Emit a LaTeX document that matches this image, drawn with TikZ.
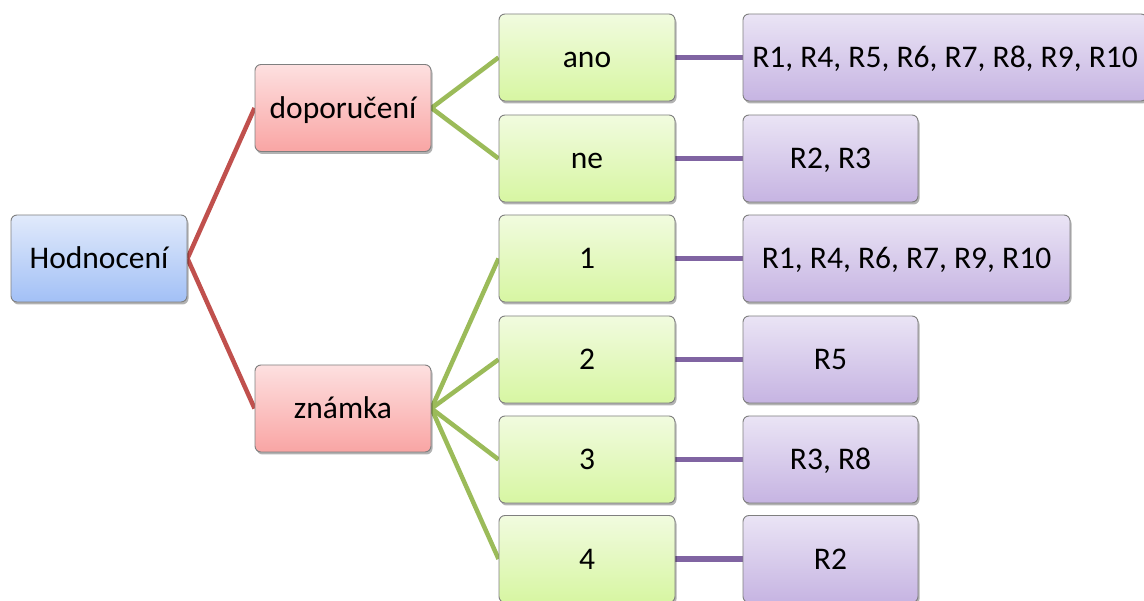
\documentclass[tikz,border=0pt]{standalone}
\usepackage{fontspec}
\setmainfont{Carlito}
\usetikzlibrary{shadows,backgrounds}
\definecolor{boxborder}{HTML}{7F7F7F}
\definecolor{bluetop}{HTML}{E1EAFB}
\definecolor{bluebot}{HTML}{A2C0F6}
\definecolor{redtop}{HTML}{FDE0E0}
\definecolor{redbot}{HTML}{F9A5A4}
\definecolor{greentop}{HTML}{F1FBDF}
\definecolor{greenbot}{HTML}{D7F6A2}
\definecolor{purptop}{HTML}{EAE4F5}
\definecolor{purpbot}{HTML}{C6B4E2}
\definecolor{redline}{HTML}{C0504D}
\definecolor{greenline}{HTML}{9BBB59}
\definecolor{purpline}{HTML}{8064A2}
\begin{document}
\begin{tikzpicture}[x=1pt,y=-1pt,
  box/.style={draw=boxborder, line width=0.9pt, rounded corners=6pt,
    minimum width=176pt, minimum height=87pt, inner sep=0pt,
    text height=20.5pt, text depth=0pt,
    font=\fontsize{31.5}{36}\selectfont,
    drop shadow={shadow xshift=1.5pt, shadow yshift=-2.5pt, opacity=0.3, fill=black}},
  bluebox/.style={box, top color=bluetop, bottom color=bluebot},
  redbox/.style={box, top color=redtop, bottom color=redbot},
  greenbox/.style={box, top color=greentop, bottom color=greenbot},
  purplebox/.style={box, top color=purptop, bottom color=purpbot, minimum width=175pt},
  rline/.style={draw=redline, line width=4.5pt},
  gline/.style={draw=greenline, line width=4.5pt},
  pline/.style={draw=purpline, line width=5.5pt}]
\useasboundingbox (0,0) rectangle (1144,601);
\clip (0,0) rectangle (1144,601);
\node[bluebox] (h) at (99,258.5) {Hodnocení};
\node[redbox] (d) at (343,108) {doporučení};
\node[redbox] (z) at (343,408.5) {známka};
\node[greenbox] (ano) at (587,57.5) {ano};
\node[greenbox] (ne) at (587,158.5) {ne};
\node[greenbox] (g1) at (587,258.5) {1};
\node[greenbox] (g2) at (587,359.5) {2};
\node[greenbox] (g3) at (587,459.5) {3};
\node[greenbox] (g4) at (587,559) {4};
\node[purplebox, minimum width=404pt] (p1) at (945,57.5) {R1, R4, R5, R6, R7, R8, R9, R10};
\node[purplebox] (p2) at (830.5,158.5) {R2, R3};
\node[purplebox, minimum width=327pt] (p3) at (906.5,258.5) {R1, R4, R6, R7, R9, R10};
\node[purplebox] (p4) at (830.5,359.5) {R5};
\node[purplebox] (p5) at (830.5,459.5) {R3, R8};
\node[purplebox] (p6) at (830.5,559) {R2};
\begin{scope}[on background layer]
\draw[rline] (h.east) -- (d.west);
\draw[rline] (h.east) -- (z.west);
\draw[gline] (d.east) -- (ano.west);
\draw[gline] (d.east) -- (ne.west);
\draw[gline] (z.east) -- (g1.west);
\draw[gline] (z.east) -- (g2.west);
\draw[gline] (z.east) -- (g3.west);
\draw[gline] (z.east) -- (g4.west);
\draw[pline] (ano.east) -- (p1.west);
\draw[pline] (ne.east) -- (p2.west);
\draw[pline] (g1.east) -- (p3.west);
\draw[pline] (g2.east) -- (p4.west);
\draw[pline] (g3.east) -- (p5.west);
\draw[pline] (g4.east) -- (p6.west);
\end{scope}
\end{tikzpicture}
\end{document}
